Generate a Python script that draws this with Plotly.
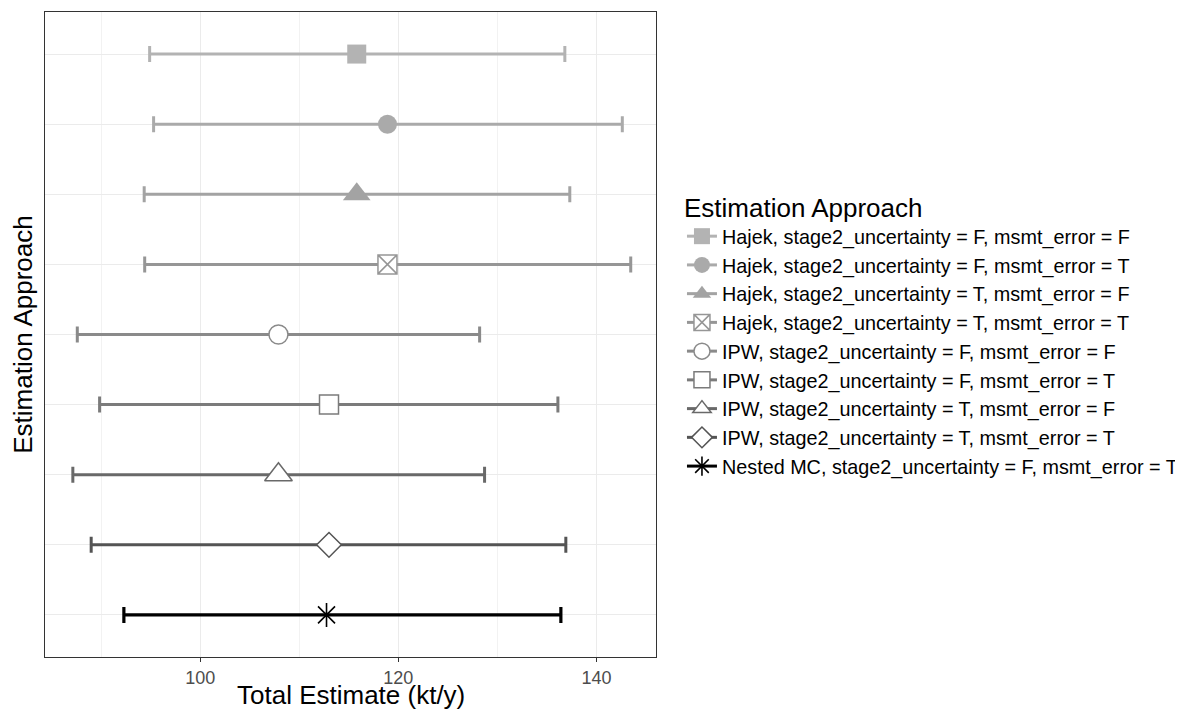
import plotly.graph_objects as go

labels = [
    "Hajek, stage2_uncertainty = F, msmt_error = F",
    "Hajek, stage2_uncertainty = F, msmt_error = T",
    "Hajek, stage2_uncertainty = T, msmt_error = F",
    "Hajek, stage2_uncertainty = T, msmt_error = T",
    "IPW, stage2_uncertainty = F, msmt_error = F",
    "IPW, stage2_uncertainty = F, msmt_error = T",
    "IPW, stage2_uncertainty = T, msmt_error = F",
    "IPW, stage2_uncertainty = T, msmt_error = T",
    "Nested MC, stage2_uncertainty = F, msmt_error = T",
]
estimates = [115.8, 118.9, 115.8, 118.9, 107.9, 113.0, 107.9, 113.0, 112.75]
lower = [94.9, 95.3, 94.35, 94.4, 87.6, 89.85, 87.15, 89.0, 92.3]
upper = [136.8, 142.6, 137.3, 143.45, 128.2, 136.1, 128.7, 136.9, 136.4]
x_title = "Total Estimate (kt/y)"
y_title = "Estimation Approach"

colors = ["#b3b3b3", "#aaaaaa", "#a3a3a3", "#969696", "#8a8a8a",
          "#7b7b7b", "#696969", "#545454", "#000000"]
symbols = ["square", "circle", "triangle-up", "square-x", "circle",
           "square", "triangle-up", "diamond", "asterisk-open"]
filled = [True, True, True, False, False, False, False, False, False]
sizes = [19, 19, 24, 19, 19, 19, 24, 19, 20]

FONT = "Liberation Sans, Arial, sans-serif"

fig = go.Figure()
n = len(labels)
for i, lab in enumerate(labels):
    yv = n - i
    if symbols[i] == "asterisk-open":
        mk = dict(symbol=symbols[i], size=sizes[i], color=colors[i],
                  line=dict(color=colors[i], width=1.6))
    elif filled[i]:
        mk = dict(symbol=symbols[i], size=sizes[i], color=colors[i],
                  line=dict(width=0))
    else:
        mk = dict(symbol=symbols[i], size=sizes[i], color="white",
                  line=dict(color=colors[i], width=1.5))
    fig.add_trace(go.Scatter(
        x=[estimates[i]], y=[yv], name=lab,
        mode="lines+markers",
        line=dict(color=colors[i], width=3),
        marker=mk,
        error_x=dict(type="data", symmetric=False,
                     array=[upper[i] - estimates[i]],
                     arrayminus=[estimates[i] - lower[i]],
                     color=colors[i], thickness=3.2 if i == n - 1 else 3,
                     width=8),
    ))

fig.update_layout(
    width=1200, height=702,
    margin=dict(l=37, r=552, t=4, b=53),
    paper_bgcolor="white", plot_bgcolor="white",
    font=dict(family=FONT, color="black"),
    showlegend=True,
    legend=dict(
        x=1.0425, xanchor="left", y=0.5, yanchor="middle",
        title=dict(text=y_title, font=dict(size=26, family=FONT, color="black")),
        font=dict(size=19.8, family=FONT, color="black"),
        bgcolor="rgba(0,0,0,0)", traceorder="normal",
        tracegroupgap=0,
    ),
    annotations=[dict(
        text=x_title, xref="paper", yref="paper", x=0.5, y=0,
        xanchor="center", yanchor="middle", yshift=-38, showarrow=False,
        font=dict(size=26, family=FONT, color="black"),
    )],
)
fig.update_xaxes(
    range=[84.34, 146.0], tickvals=[100, 120, 140], ticktext=["100", "120", "140"],
    showgrid=True, gridcolor="#ebebeb", gridwidth=1.1,
    minor=dict(tickvals=[90, 110, 130], showgrid=True, gridcolor="#f2f2f2", gridwidth=0.8),
    tickfont=dict(size=18, color="#4d4d4d", family=FONT),
    showline=True, linecolor="#333333", linewidth=1, mirror=True,
    ticks="outside", ticklen=4, tickwidth=1, tickcolor="#333333", zeroline=False,
    automargin=False,
)
fig.update_yaxes(
    range=[0.4, 9.6], tickvals=list(range(1, n + 1)), showticklabels=False,
    showgrid=True, gridcolor="#ebebeb", gridwidth=1.1,
    showline=True, linecolor="#333333", linewidth=1, mirror=True,
    ticks="", zeroline=False,
    title=dict(text=y_title, font=dict(size=26, family=FONT, color="black"), standoff=6),
    automargin=False,
)

fig.write_html("out.html")
